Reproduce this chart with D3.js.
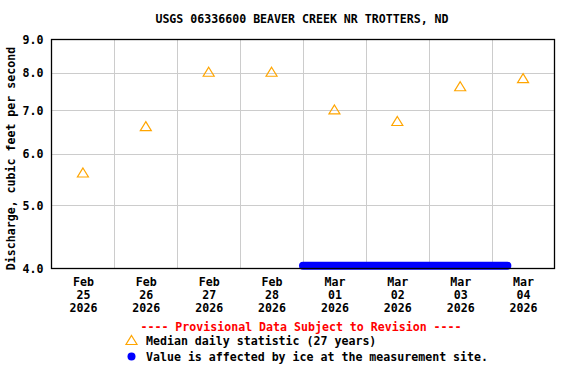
<!DOCTYPE html>
<html>
<head>
<meta charset="utf-8">
<script src="https://cdn.jsdelivr.net/npm/d3@7"></script>
<style>
  body { margin: 0; background: #fff; }
  text { font-family: "DejaVu Sans Mono", monospace; font-weight: bold; font-size: 11.6px; }
</style>
</head>
<body>
<div id="chart"></div>
<script>
// data
var medianDates = ["2026-02-25T12:00", "2026-02-26T12:00", "2026-02-27T12:00", "2026-02-28T12:00",
                   "2026-03-01T12:00", "2026-03-02T12:00", "2026-03-03T12:00", "2026-03-04T12:00"];
var medianValues = [5.6, 6.6, 8.0, 8.0, 7.0, 6.72, 7.6, 7.82];
var iceDates = ["2026-03-01T00:00", "2026-03-04T06:00"];
var iceValues = [4.04, 4.04];
var yTicks = [4, 5, 6, 7, 8, 9];
var xTicks = ["2026-02-25T12:00", "2026-02-26T12:00", "2026-02-27T12:00", "2026-02-28T12:00",
              "2026-03-01T12:00", "2026-03-02T12:00", "2026-03-03T12:00", "2026-03-04T12:00"];
var xGrid = ["2026-02-26", "2026-02-27", "2026-02-28", "2026-03-01", "2026-03-02", "2026-03-03", "2026-03-04"];

var parse = d3.utcParse("%Y-%m-%dT%H:%M");
var parseDay = d3.utcParse("%Y-%m-%d");

// plot box (window.top is reserved, so use other names)
var plotL = 51.5, plotR = 554.5, plotT = 39.5, plotB = 268.5;

var svg = d3.select("#chart")
  .append("svg")
    .attr("width", 576)
    .attr("height", 384);

var x = d3.scaleUtc()
  .domain([parseDay("2026-02-25"), parseDay("2026-03-05")])
  .range([plotL, plotR]);

var y = d3.scaleLog()
  .domain([4, 9])
  .range([plotB, plotT]);

// grid
svg.append("g")
  .selectAll("line")
  .data(yTicks.slice(1, -1))
  .enter()
  .append("line")
    .attr("x1", plotL).attr("x2", plotR)
    .attr("y1", function(d) { return Math.round(y(d)) + 0.5; })
    .attr("y2", function(d) { return Math.round(y(d)) + 0.5; })
    .attr("stroke", "#cccccc");

svg.append("g")
  .selectAll("line")
  .data(xGrid)
  .enter()
  .append("line")
    .attr("x1", function(d) { return Math.round(x(parseDay(d))) + 0.5; })
    .attr("x2", function(d) { return Math.round(x(parseDay(d))) + 0.5; })
    .attr("y1", plotT).attr("y2", plotB)
    .attr("stroke", "#cccccc");

// y axis labels
var yAxis = svg.append("g")
  .attr("transform", "translate(" + plotL + ",0)")
  .call(d3.axisLeft(y).tickValues(yTicks).tickSize(0).tickPadding(8)
        .tickFormat(d3.format(".1f")));
yAxis.select(".domain").remove();
yAxis.selectAll("text").attr("fill", "#000").style("font-size", "11.6px")
  .style("font-family", "DejaVu Sans Mono, monospace");

// x axis labels (month / day / year)
var xAxis = svg.append("g")
  .attr("transform", "translate(0," + plotB + ")")
  .call(d3.axisBottom(x).tickValues(xTicks.map(parse)).tickSize(0).tickFormat(""));
xAxis.select(".domain").remove();
xAxis.selectAll(".tick").each(function(d) {
  var t = d3.select(this).append("text")
    .attr("fill", "#000")
    .attr("text-anchor", "middle")
    .style("font-size", "11.6px")
    .style("font-family", "DejaVu Sans Mono, monospace");
  [d3.utcFormat("%b")(d), d3.utcFormat("%d")(d), d3.utcFormat("%Y")(d)].forEach(function(s, i) {
    t.append("tspan").attr("x", 0).attr("y", 17 + i * 13.3).text(s);
  });
});

// ice affected values
var iceLine = d3.line()
  .x(function(d) { return x(parse(d[0])); })
  .y(function(d) { return y(d[1]); });
svg.append("path")
  .datum(d3.zip(iceDates, iceValues))
  .attr("d", iceLine)
  .attr("fill", "none")
  .attr("stroke", "#0000ff")
  .attr("stroke-width", 8)
  .attr("stroke-linecap", "round");

// median triangles
var tri = "M0,-5.5 L5.5,3.5 L-5.5,3.5 Z";
svg.selectAll("path.med")
  .data(d3.zip(medianDates, medianValues))
  .enter()
  .append("path")
    .attr("class", "med")
    .attr("d", tri)
    .attr("transform", function(d) { return "translate(" + x(parse(d[0])) + "," + y(d[1]) + ")"; })
    .attr("fill", "none")
    .attr("stroke", "#ffa500")
    .attr("stroke-width", 1.2);

// plot frame
svg.append("rect")
  .attr("x", plotL).attr("y", plotT)
  .attr("width", plotR - plotL).attr("height", plotB - plotT)
  .attr("fill", "none")
  .attr("stroke", "#000")
  .attr("stroke-width", 1.3);

// title
svg.append("text")
  .attr("x", 302)
  .attr("y", 23)
  .attr("text-anchor", "middle")
  .text("USGS 06336600 BEAVER CREEK NR TROTTERS, ND");

// y label
svg.append("text")
  .attr("transform", "translate(15,158.5) rotate(-90)")
  .attr("text-anchor", "middle")
  .text("Discharge, cubic feet per second");

// legend
svg.append("text")
  .attr("x", 301)
  .attr("y", 331)
  .attr("text-anchor", "middle")
  .attr("fill", "#ff0000")
  .text("---- Provisional Data Subject to Revision ----");

svg.append("path")
  .attr("d", tri)
  .attr("transform", "translate(131.5,341)")
  .attr("fill", "none")
  .attr("stroke", "#ffa500")
  .attr("stroke-width", 1.2);
svg.append("text")
  .attr("x", 146)
  .attr("y", 345)
  .text("Median daily statistic (27 years)");

svg.append("circle")
  .attr("cx", 131.5).attr("cy", 356.5).attr("r", 4)
  .attr("fill", "#0000ff");
svg.append("text")
  .attr("x", 146)
  .attr("y", 361)
  .text("Value is affected by ice at the measurement site.");
</script>
</body>
</html>
